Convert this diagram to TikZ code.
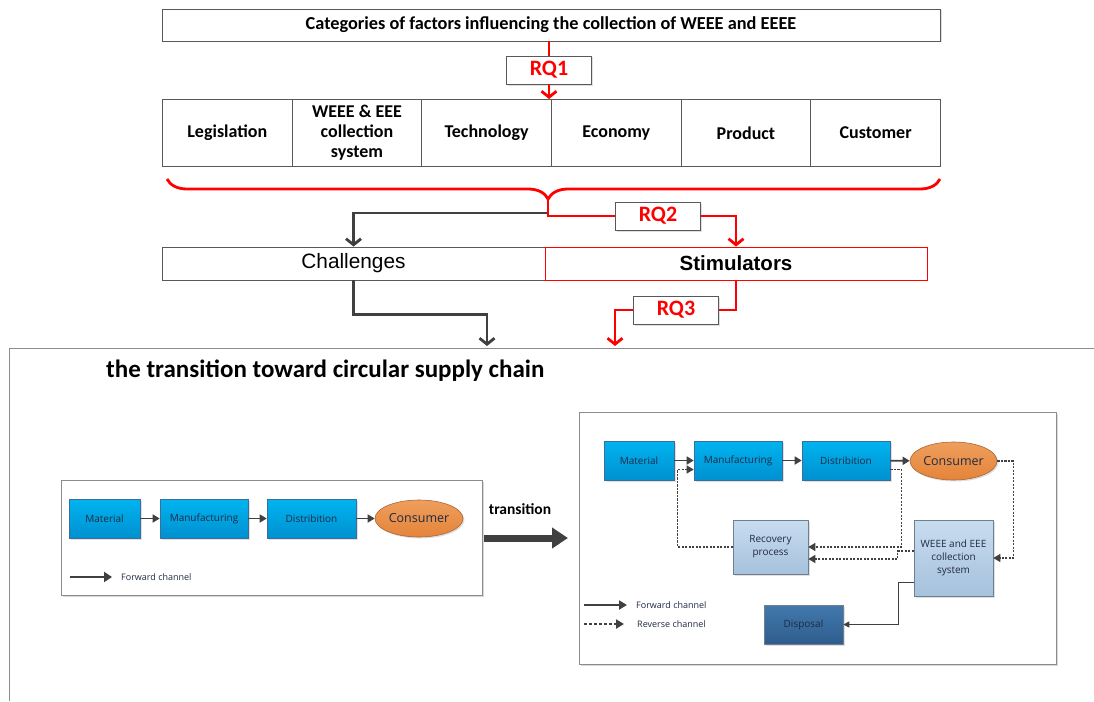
\documentclass[tikz,border=0pt]{standalone}
\usepackage{fontspec}
\setmainfont{Carlito}
\newfontfamily\lsans{Liberation Sans}
\newfontfamily\osans{Open Sans}
\usetikzlibrary{arrows.meta,shadows,decorations.pathreplacing,shapes.geometric}
\definecolor{rqred}{HTML}{FF0000}
\definecolor{dgray}{HTML}{404040}
\definecolor{bord}{HTML}{595959}
\definecolor{panelgray}{HTML}{8C8C8C}
\definecolor{bluetop}{HTML}{00B4F0}
\definecolor{bluebot}{HTML}{0090D0}
\definecolor{blueedge}{HTML}{3C6E9A}
\definecolor{lbtop}{HTML}{C8DCEF}
\definecolor{lbbot}{HTML}{A6C2DD}
\definecolor{lbedge}{HTML}{6E7F90}
\definecolor{dbtop}{HTML}{4279AE}
\definecolor{dbbot}{HTML}{2F5D8C}
\definecolor{ortop}{HTML}{EE9E5C}
\definecolor{orbot}{HTML}{E5843A}
\definecolor{oredge}{HTML}{A8653A}
\definecolor{txt}{HTML}{1F2A44}
\begin{document}
\begin{tikzpicture}[x=1pt,y=-1pt,
  shad/.style={drop shadow={opacity=0.25,shadow xshift=1.5pt,shadow yshift=-1.5pt}},
  cell/.style={draw=bord,fill=white,line width=0.9pt,minimum height=67pt,minimum width=129.67pt,
    inner sep=0pt,font=\bfseries\fontsize{18}{20}\selectfont,align=center,anchor=north west},
  rqbox/.style={draw=bord,fill=white,line width=0.9pt,minimum width=85pt,minimum height=28pt,inner sep=0pt,
    font=\bfseries\fontsize{22}{24}\selectfont,text=rqred,shad},
  redline/.style={draw=rqred,line width=2.8pt},
  darkline/.style={draw=dgray,line width=2.8pt},
  barb/.style={-{Straight Barb[length=6pt,width=15pt]}},
  bluebox/.style={draw=blueedge,line width=0.6pt,top color=bluetop,bottom color=bluebot,minimum height=39pt,
    inner sep=0pt,font=\osans\fontsize{10}{12}\selectfont,text=txt,shad},
  lbbox/.style={draw=lbedge,line width=0.6pt,top color=lbtop,bottom color=lbbot,inner sep=0pt,align=center,
    font=\osans\fontsize{10}{13}\selectfont,text=txt,shad},
  dbbox/.style={draw=lbedge,line width=0.6pt,top color=dbtop,bottom color=dbbot,inner sep=0pt,
    font=\osans\fontsize{10}{12}\selectfont,text=txt,shad},
  consumer/.style={ellipse,draw=oredge,line width=0.6pt,top color=ortop,bottom color=orbot,inner sep=0pt,
    minimum width=88pt,minimum height=37pt,font=\osans\fontsize{12.5}{14}\selectfont,text=txt,shad},
  subpanel/.style={draw=panelgray,line width=0.9pt,fill=white,anchor=north west,inner sep=0pt,
    drop shadow={opacity=0.3,shadow xshift=2pt,shadow yshift=-2pt}},
  fwd/.style={draw=dgray,line width=1.6pt,-{Triangle[length=7pt,width=8pt]}},
  rev/.style={draw=dgray,line width=1.1pt,dash pattern=on 2.2pt off 1.3pt,-{Triangle[length=7pt,width=8pt]}},
  legtext/.style={font=\osans\fontsize{9}{11}\selectfont,text=txt,anchor=west,inner sep=0pt}
]
\useasboundingbox (0,0) rectangle (1094,701);
\fill[white] (0,0) rectangle (1094,701);

% ---------- top ----------
\node[draw=bord,fill=white,line width=0.9pt,minimum width=778pt,minimum height=32pt,inner sep=0pt,
  font=\bfseries\fontsize{18.3}{20}\selectfont,shad] (top) at (551,25)
  {Categories of factors influencing the collection of WEEE and EEEE};

\node[cell] (c1) at (162,99) {Legislation};
\node[cell] (c2) at (291.67,99) {WEEE \& EEE\\collection\\system};
\node[cell] (c3) at (421.33,99) {Technology};
\node[cell] (c4) at (551,99) {Economy};
\node[cell] (c5) at (680.67,99) {Product};
\node[cell] (c6) at (810.33,99) {Customer};

\node[rqbox] (rq1) at (549,70) {RQ1};
\draw[redline] (rq1.north |- top.south) -- (rq1.north);
\draw[redline,barb] (rq1.south) -- (rq1.south |- c4.north);

% brace
\draw[redline,decorate,decoration={brace,mirror,amplitude=20pt,aspect=0.493}] (167,179) -- (940,179);
\coordinate (tip) at (548,199);

% challenges / stimulators
\node[draw=bord,fill=white,line width=0.9pt,minimum width=383pt,minimum height=33pt,inner sep=0pt,
  font=\lsans\fontsize{20.8}{22}\selectfont] (chal) at (353.5,263.5) {Challenges};
\node[draw=rqred,fill=white,line width=0.9pt,minimum width=382pt,minimum height=33pt,inner sep=0pt,
  font=\lsans\bfseries\fontsize{20.5}{22}\selectfont] (stim) at (736,263.5) {Stimulators};

\node[rqbox] (rq2) at (658,216) {RQ2};
\draw[darkline,barb] (tip) -- ++(0,14) -| (chal.north);
\draw[redline] (tip) |- (rq2.west);
\draw[redline,barb] (rq2.east) -| (stim.north);

\node[rqbox] (rq3) at (676,310) {RQ3};
\coordinate (arrC) at (487,346);
\coordinate (arrS) at (615,346);
\draw[darkline,barb] (chal.south) -- ++(0,34) -| (arrC);
\draw[redline] (stim.south) |- (rq3.east);
\draw[redline,barb] (rq3.west) -| (arrS);

% ---------- lower frame ----------
\draw[panelgray,line width=1pt] (1094,348) -- (9,348) -- (9,701);
\node[anchor=west,inner sep=0pt,font=\bfseries\fontsize{25}{27}\selectfont] (title) at (106,371)
  {the transition toward circular supply chain};

% left panel
\node[subpanel,minimum width=421pt,minimum height=115pt] (lp) at (61,480) {};
\node[bluebox,minimum width=71pt] (m1) at (104.5,518.5) {Material};
\node[bluebox,minimum width=88pt] (mf1) at (204,518.5) {Manufacturing};
\node[bluebox,minimum width=89pt] (d1) at (311.5,518.5) {Distribition};
\node[consumer] (cs1) at (419,518.5) {Consumer};
\draw[fwd] (m1) -- (mf1);
\draw[fwd] (mf1) -- (d1);
\draw[fwd] (d1) -- (cs1);
\coordinate (lf1) at (70,577);
\coordinate (lf2) at (112,577);
\draw[draw=dgray,line width=2.6pt,-{Triangle[length=8pt,width=10pt]}] (lf1) -- (lf2);
\node[legtext] (lft) at (121,577) {Forward channel};

% transition arrow
\node[font=\bfseries\fontsize{15.5}{17}\selectfont,inner sep=0pt] (trl) at (520,509) {transition};
\coordinate (ta1) at (484,538);
\coordinate (ta2) at (568,538);
\draw[dgray,line width=7pt,-{Triangle[length=16pt,width=20pt]}] (ta1) -- (ta2);

% right panel
\node[subpanel,minimum width=477pt,minimum height=252pt] (rp) at (579,412) {};
\node[bluebox,minimum width=70pt] (m2) at (639,460.5) {Material};
\node[bluebox,minimum width=88pt] (mf2) at (738,460.5) {Manufacturing};
\node[bluebox,minimum width=88pt] (d2) at (846,460.5) {Distribition};
\node[consumer,minimum width=87pt,minimum height=38pt] (cs2) at (953.5,461) {Consumer};
\node[lbbox,minimum width=75pt,minimum height=54pt] (rec) at (770.5,547) {Recovery\\process};
\node[lbbox,minimum width=79pt,minimum height=76pt] (weee) at (953.5,558) {WEEE and EEE\\collection\\system};
\node[dbbox,minimum width=79pt,minimum height=39pt] (disp) at (803.5,624.5) {Disposal};

\draw[fwd] (m2) -- (mf2);
\draw[fwd] (mf2) -- (d2);
\draw[fwd] (d2) -- (cs2);
\draw[rev] (rec.west) -- ++(-55,0) |- ([yshift=-9pt]mf2.west);
\draw[rev] ([yshift=-9pt]d2.east) -- ++(11,0) |- (rec.east);
\draw[rev] ([yshift=7pt]weee.west) -- ++(-16,0) |- ([yshift=-12pt]rec.east);
\draw[rev] (cs2.east) -- ++(16,0) |- (weee.east);
\draw[draw=dgray,line width=0.9pt,-{Triangle[length=6pt,width=6pt]}] ([yshift=-24pt]weee.west) -- ++(-15,0) |- (disp.east);

\coordinate (rf1) at (584,605);
\coordinate (rf2) at (627,605);
\coordinate (rr1) at (584,624);
\coordinate (rr2) at (624,624);
\draw[draw=dgray,line width=2.2pt,-{Triangle[length=8pt,width=9pt]}] (rf1) -- (rf2);
\draw[draw=dgray,line width=2.2pt,dash pattern=on 3pt off 2pt,-{Triangle[length=8pt,width=9pt]}] (rr1) -- (rr2);
\node[legtext] (rft) at (636,605) {Forward channel};
\node[legtext] (rrt) at (637,624) {Reverse channel};
\end{tikzpicture}
\end{document}
